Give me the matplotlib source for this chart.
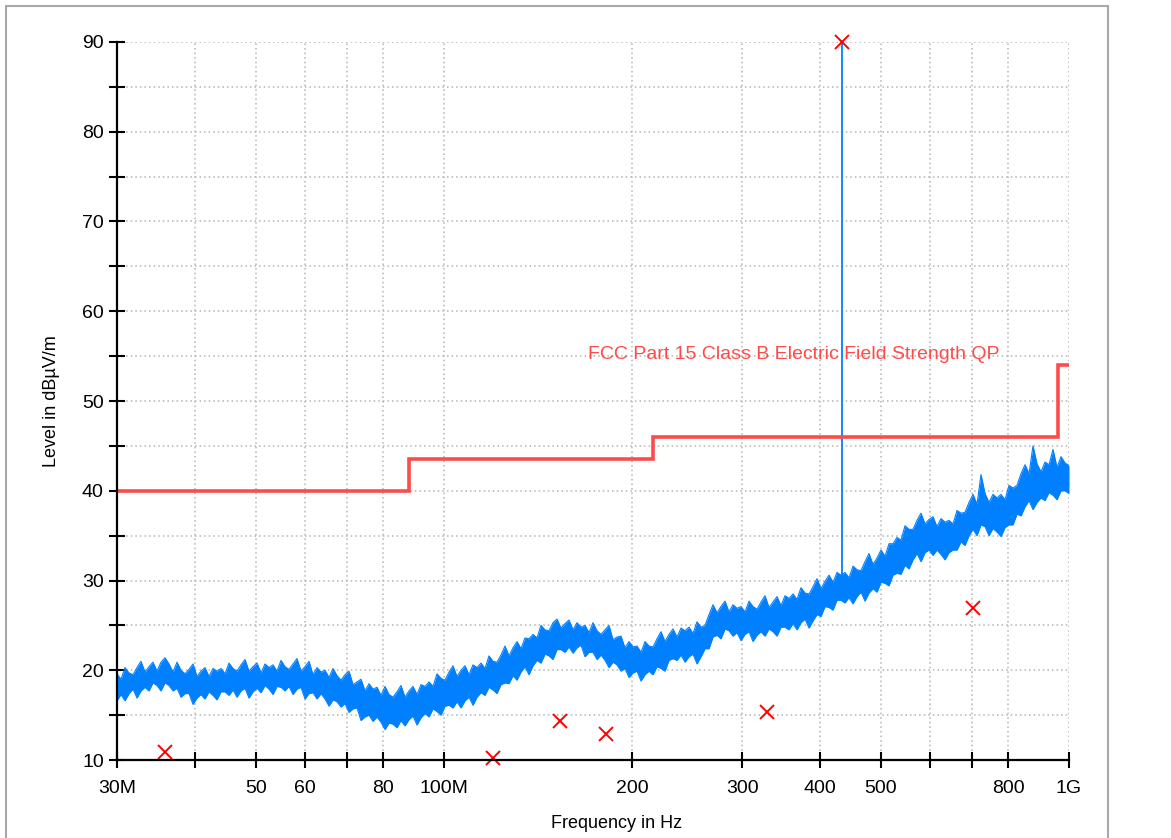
import numpy as np
import matplotlib
matplotlib.use("Agg")
import matplotlib.pyplot as plt
from matplotlib.ticker import FixedLocator, FixedFormatter, NullLocator, MultipleLocator
from matplotlib.patches import Rectangle

plt.rcParams['font.family'] = ['Liberation Sans', 'DejaVu Sans']

# ---------------- data ----------------
# measured spectrum (peak trace) upper / lower envelope, log sweep 30 MHz .. 1 GHz
sweep_start_mhz = 30.0
sweep_stop_mhz = 1000.0
trace_hi = [
    19.6, 19.0, 20.3, 19.7, 19.5, 20.3, 21.0, 19.8, 20.4, 20.9,
    19.9, 20.9, 21.4, 20.7, 19.8, 20.9, 20.0, 19.6, 20.1, 20.7,
    19.3, 19.9, 20.3, 19.3, 20.2, 19.9, 20.2, 19.6, 20.8, 20.2,
    19.9, 20.6, 21.2, 19.9, 20.4, 20.8, 19.7, 20.7, 20.3, 20.6,
    19.9, 21.1, 20.4, 20.1, 20.7, 21.3, 19.9, 20.4, 21.0, 19.5,
    20.3, 19.8, 20.0, 19.2, 20.2, 19.4, 18.9, 19.5, 19.9, 18.4,
    18.7, 19.0, 17.7, 18.5, 17.9, 18.1, 17.2, 18.2, 17.3, 17.0,
    17.6, 18.3, 17.0, 17.7, 18.2, 17.3, 18.4, 18.2, 18.7, 18.2,
    19.6, 19.1, 18.9, 19.8, 20.5, 19.3, 20.0, 20.5, 19.5, 20.6,
    20.3, 20.8, 20.2, 21.6, 21.0, 20.9, 21.7, 22.7, 21.6, 22.5,
    23.2, 22.4, 23.6, 23.5, 24.0, 23.6, 25.0, 24.5, 24.4, 25.3,
    25.7, 24.7, 25.2, 25.6, 24.5, 25.3, 24.8, 25.0, 24.2, 25.3,
    24.4, 24.0, 24.5, 25.0, 23.4, 23.7, 23.8, 22.5, 23.2, 22.6,
    22.7, 22.0, 23.2, 22.7, 22.6, 23.5, 24.3, 23.2, 24.0, 24.6,
    23.7, 24.7, 24.4, 24.8, 24.1, 25.4, 24.8, 25.0, 26.2, 27.3,
    26.4, 27.1, 27.7, 26.5, 27.3, 26.9, 27.1, 26.5, 27.7, 27.1,
    26.8, 27.6, 28.3, 27.0, 27.6, 28.2, 27.2, 28.3, 28.0, 28.5,
    27.9, 29.2, 28.6, 28.5, 29.3, 30.2, 29.1, 29.9, 30.6, 29.8,
    30.9, 30.6, 30.9, 30.3, 31.6, 31.2, 31.1, 32.1, 33.0, 31.8,
    32.5, 33.4, 32.7, 34.1, 34.1, 34.8, 34.5, 36.1, 35.7, 35.7,
    36.7, 37.5, 36.3, 36.8, 37.1, 36.0, 36.9, 36.5, 36.7, 36.3,
    37.8, 37.5, 37.6, 38.7, 39.6, 38.5, 41.8, 39.7, 38.7, 39.6,
    39.2, 39.6, 39.0, 40.6, 40.3, 40.6, 41.9, 42.9, 41.9, 45.0,
    43.0, 42.1, 43.2, 42.9, 44.6, 42.6, 43.8, 43.1, 42.8,
]
trace_lo = [
    16.6, 17.3, 16.6, 17.4, 17.9, 16.9, 17.7, 18.1, 17.7, 18.6,
    18.3, 17.7, 18.6, 18.3, 17.7, 18.0, 17.0, 17.4, 17.4, 16.2,
    16.9, 17.3, 16.8, 17.6, 17.2, 16.7, 17.6, 17.6, 17.2, 17.8,
    17.0, 17.7, 18.0, 16.9, 17.6, 18.0, 17.5, 18.3, 17.9, 17.3,
    18.2, 18.1, 17.7, 18.2, 17.3, 17.9, 18.1, 16.8, 17.4, 17.5,
    16.8, 17.4, 16.8, 16.0, 16.7, 16.5, 15.9, 16.3, 15.3, 15.7,
    15.8, 14.4, 14.8, 15.0, 14.3, 14.8, 14.2, 13.4, 14.1, 14.0,
    13.6, 14.4, 13.8, 14.5, 14.9, 13.9, 14.7, 15.2, 14.8, 15.7,
    15.4, 15.0, 16.0, 16.1, 15.8, 16.5, 15.8, 16.6, 17.0, 16.1,
    17.0, 17.5, 17.2, 18.1, 17.8, 17.4, 18.4, 18.6, 18.5, 19.4,
    18.9, 19.8, 20.4, 19.5, 20.5, 21.1, 20.8, 21.8, 21.6, 21.2,
    22.3, 22.3, 22.0, 22.6, 21.9, 22.5, 22.8, 21.5, 22.0, 22.0,
    21.2, 21.7, 21.1, 20.3, 20.9, 20.6, 19.9, 20.2, 19.2, 19.7,
    19.9, 18.8, 19.5, 19.9, 19.5, 20.4, 20.2, 19.9, 21.1, 21.3,
    21.1, 21.7, 20.9, 21.5, 21.8, 20.7, 21.5, 22.4, 22.4, 23.7,
    23.9, 23.5, 24.6, 24.4, 23.8, 24.2, 23.3, 24.0, 24.3, 23.2,
    23.9, 24.3, 23.8, 24.6, 24.3, 23.8, 24.8, 24.8, 24.5, 25.2,
    24.5, 25.3, 25.7, 24.7, 25.5, 26.2, 26.0, 27.1, 27.0, 26.7,
    27.8, 27.8, 27.5, 28.1, 27.4, 28.2, 28.7, 27.7, 28.6, 29.1,
    28.7, 29.8, 29.7, 29.4, 30.6, 30.8, 30.7, 31.7, 31.3, 32.3,
    33.0, 32.1, 33.1, 33.4, 32.8, 33.4, 32.9, 32.3, 33.1, 33.4,
    33.4, 34.3, 33.9, 35.0, 35.7, 35.0, 36.2, 36.0, 35.0, 35.8,
    35.4, 34.9, 35.9, 36.2, 36.2, 37.4, 37.2, 38.2, 38.9, 37.9,
    38.7, 39.2, 38.9, 39.8, 39.5, 39.0, 40.0, 40.0, 39.7,
]

# narrow-band emission in the trace
spike_freq_mhz = [433.92]
spike_base_db = [30.5]
spike_peak_db = [90.0]

# limit line: FCC Part 15 Class B, QP
limit_freq_mhz = [30, 88, 216, 960, 1000]
limit_level_db = [40.0, 43.5, 46.0, 54.0, 54.0]
limit_name = "FCC Part 15 Class B Electric Field Strength QP"

# final QP measurement points
qp_freq_mhz = [35.8, 119.9, 153.4, 181.7, 328.7, 433.92, 702.0]
qp_level_db = [10.9, 10.2, 14.3, 12.9, 15.3, 90.0, 26.9]

x_ticks = [30, 40, 50, 60, 70, 80, 100, 200, 300, 400, 500, 600, 700, 800, 1000]
x_tick_labels = ["30M", "", "50", "60", "", "80", "100M", "200", "300", "400", "500", "", "", "800", "1G"]
y_ticks = [10, 20, 30, 40, 50, 60, 70, 80, 90]

# ---------------- plot ----------------
BLUE = '#0080ff'
LIMIT_RED = '#ff4a4a'
MARK_RED = '#ff0000'

W, H = 1171, 838
fig = plt.figure(figsize=(W / 100, H / 100), dpi=100)
ax = fig.add_axes([117 / W, 1 - 760 / H, (1069 - 117) / W, (760 - 42) / H])

freq = np.geomspace(sweep_start_mhz, sweep_stop_mhz, len(trace_hi))
ax.fill_between(freq, trace_lo, trace_hi, color=BLUE, lw=0, zorder=3)
ax.plot(freq, trace_hi, color=BLUE, lw=0.8, zorder=3)
ax.plot(freq, trace_lo, color=BLUE, lw=0.8, zorder=3)
for f, b, p in zip(spike_freq_mhz, spike_base_db, spike_peak_db):
    ax.plot([f, f], [b, p], color=BLUE, lw=1.3, zorder=3, clip_on=False)

ax.plot(limit_freq_mhz, limit_level_db, drawstyle='steps-post', color=LIMIT_RED,
        lw=2.6, zorder=4, solid_joinstyle='miter')
ax.text(170, 55.2, limit_name, color=LIMIT_RED, fontsize=14, va='center', ha='left',
        clip_on=False, zorder=5)

ax.plot(qp_freq_mhz, qp_level_db, ls='none', marker='x', ms=10, mew=1.4,
        color=MARK_RED, zorder=6, clip_on=False)

ax.set_xscale('log')
ax.set_xlim(30, 1000)
ax.set_ylim(10, 90)
ax.xaxis.set_major_locator(FixedLocator(x_ticks))
ax.xaxis.set_major_formatter(FixedFormatter(x_tick_labels))
ax.xaxis.set_minor_locator(NullLocator())
ax.yaxis.set_major_locator(FixedLocator(y_ticks))
ax.yaxis.set_minor_locator(MultipleLocator(5))

for s in ['top', 'right']:
    ax.spines[s].set_visible(False)
for s in ['left', 'bottom']:
    ax.spines[s].set_linewidth(1.6)
    ax.spines[s].set_color('black')
    ax.spines[s].set_zorder(7)

ax.tick_params(axis='both', which='both', direction='inout', width=1.5, colors='black',
               labelsize=14)
ax.tick_params(axis='y', which='both', length=11, pad=4)
ax.tick_params(axis='x', which='both', length=11, pad=9)

ax.grid(True, which='both', axis='y', ls=(0, (1, 2)), color='#b4b4b4', lw=1.1, zorder=0)
ax.grid(True, which='major', axis='x', ls=(0, (1, 2)), color='#b4b4b4', lw=1.1, zorder=0)

ax.set_ylabel("Level in dBµV/m", fontsize=13)
ax.set_xlabel("Frequency in Hz", fontsize=13)
ax.yaxis.set_label_coords(-0.06, 0.5)
ax.xaxis.set_label_coords(0.525, -0.077)

fig.patches.append(Rectangle((6 / W, -0.05), (1108 - 6) / W, 1.05 - 6 / H,
                             transform=fig.transFigure, fill=False,
                             edgecolor='#a8a8a8', lw=1.5, zorder=0))

fig.savefig("out.png", dpi=100)
